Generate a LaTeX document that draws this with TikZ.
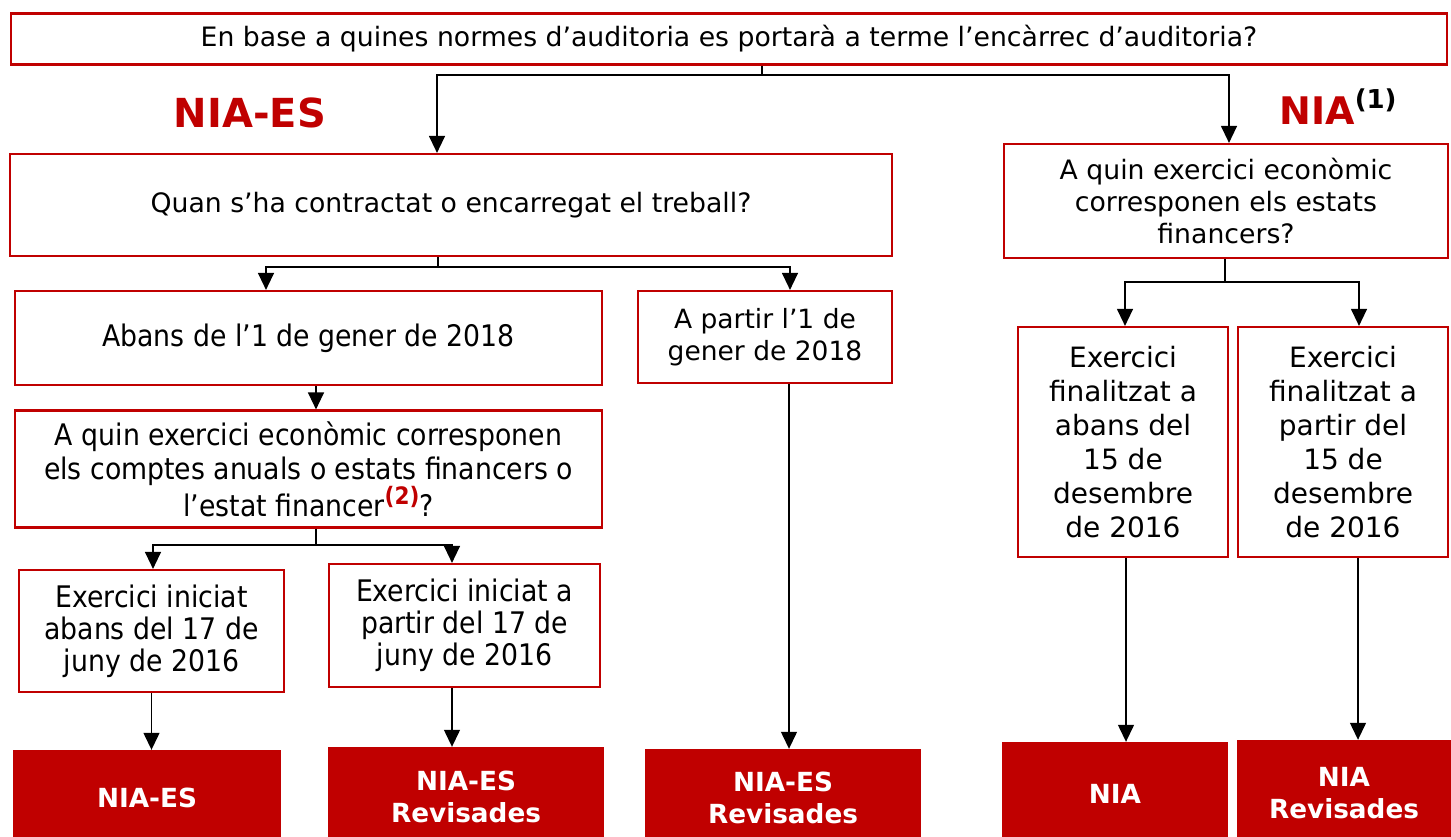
\documentclass[tikz,border=0pt]{standalone}
\usepackage{fontspec}
\setmainfont{DejaVu Sans}
\newfontfamily\condf{DejaVu Sans Condensed}
\usetikzlibrary{arrows.meta}
\definecolor{kred}{HTML}{C00000}
\begin{document}
\begin{tikzpicture}[x=1pt,y=-1pt,
  qbox/.style={draw=kred, line width=2.2pt, fill=white, inner sep=0pt, align=center,
    font=\fontsize{26.7}{32}\selectfont},
  cbox/.style={qbox, font=\condf\fontsize{29.7}{32}\selectfont},
  bbox/.style={qbox, font=\fontsize{26.5}{32}\selectfont},
  xbox/.style={qbox, font=\fontsize{28}{34}\selectfont},
  rbox/.style={fill=kred, draw=none, inner sep=0pt, align=center, text=white,
    font=\bfseries\fontsize{26.3}{32}\selectfont},
  arr/.style={line width=1.3pt, -{Triangle[length=17pt,width=16pt]}},
  ln/.style={line width=1.3pt}
]
\useasboundingbox (0,0) rectangle (1451,836);

% top question
\node[qbox, minimum width=1436, minimum height=51] (top) at (729,39)
  {En base a quines normes d’auditoria es portarà a terme l’encàrrec d’auditoria?};

% headings
\node[text=kred, font=\bfseries\fontsize{40}{40}\selectfont, inner sep=0pt] (hes) at (250,113) {NIA-ES};
\node[font=\bfseries\fontsize{38}{38}\selectfont, inner sep=0pt, anchor=base] (hnia) at (1338,124)
  {\textcolor{kred}{NIA}\raisebox{0.42em}{\fontsize{26}{26}\selectfont(1)}};

% NIA-ES branch
\node[qbox, minimum width=882, minimum height=102] (quan) at (451,205)
  {Quan s’ha contractat o encarregat el treball?};
\node[cbox, minimum width=587, minimum height=94] (abans) at (308.5,338)
  {Abans de l’1 de gener de 2018};
\node[bbox, minimum width=254, minimum height=92] (apartir) at (765,337)
  {A partir l’1 de\\gener de 2018};
\node[cbox, minimum width=587, minimum height=117, font=\condf\fontsize{29.7}{34}\selectfont] (quin) at (308.5,469)
  {A quin exercici econòmic corresponen\\els comptes anuals o estats financers o\\l’estat financer\raisebox{0.4em}{\fontsize{24}{24}\selectfont\bfseries\color{kred}(2)}?};
\node[cbox, minimum width=265, minimum height=122] (ea) at (151.5,631)
  {Exercici iniciat\\abans del 17 de\\juny de 2016};
\node[cbox, minimum width=271, minimum height=123] (eb) at (464.5,625.5)
  {Exercici iniciat a\\partir del 17 de\\juny de 2016};

% NIA branch
\node[qbox, minimum width=444, minimum height=114] (niaq) at (1226,201)
  {A quin exercici econòmic\\corresponen els estats\\financers?};
\node[xbox, minimum width=210, minimum height=230] (ex1) at (1123,442)
  {Exercici\\finalitzat a\\abans del\\15 de\\desembre\\de 2016};
\node[xbox, minimum width=210, minimum height=230] (ex2) at (1343,442)
  {Exercici\\finalitzat a\\partir del\\15 de\\desembre\\de 2016};

% results (extend slightly below the page edge, as in the reference)
\node[rbox, minimum width=268, minimum height=96] (r1) at (147,798) {NIA-ES};
\node[rbox, minimum width=276, minimum height=99] (r2) at (466,796.5) {NIA-ES\\Revisades};
\node[rbox, minimum width=276, minimum height=97] (r3) at (783,797.5) {NIA-ES\\Revisades};
\node[rbox, minimum width=226, minimum height=104] (r4) at (1115,794) {NIA};
\node[rbox, minimum width=214, minimum height=106] (r5) at (1344,793) {NIA\\Revisades};

% connectors
\coordinate (j0) at ([xshift=33pt]top.south |- 0,75);
\draw[ln] ([xshift=33pt]top.south) -- (j0);
\draw[arr] (j0) -| ([xshift=-14pt]quan.north);
\draw[arr] (j0) -| ([xshift=3pt]niaq.north);

\coordinate (j1) at ([xshift=-13pt]quan.south |- 0,267);
\draw[ln] ([xshift=-13pt]quan.south) -- (j1);
\draw[arr] (j1) -| ([xshift=-42.5pt]abans.north);
\draw[arr] (j1) -| ([xshift=25pt]apartir.north);

\draw[arr] ([xshift=7.5pt]abans.south) -- ([xshift=7.5pt]quin.north);

\coordinate (j2) at ([xshift=7.5pt]quin.south |- 0,545);
\draw[ln] ([xshift=7.5pt]quin.south) -- (j2);
\draw[arr] (j2) -| ([xshift=1.5pt]ea.north);
\draw[arr] (j2) -| ([xshift=-12.5pt]eb.north);

\draw[arr] (ea.south) -- (ea.south |- r1.north);
\draw[arr] ([xshift=-12.5pt]eb.south) -- ([xshift=-12.5pt]eb.south |- r2.north);
\draw[arr] ([xshift=24pt]apartir.south) -- ([xshift=24pt]apartir.south |- r3.north);

\coordinate (j3) at ([xshift=-1pt]niaq.south |- 0,282);
\draw[ln] ([xshift=-1pt]niaq.south) -- (j3);
\draw[arr] (j3) -| ([xshift=2pt]ex1.north);
\draw[arr] (j3) -| ([xshift=16pt]ex2.north);

\draw[arr] ([xshift=3pt]ex1.south) -- ([xshift=3pt]ex1.south |- r4.north);
\draw[arr] ([xshift=15pt]ex2.south) -- ([xshift=15pt]ex2.south |- r5.north);
\end{tikzpicture}
\end{document}
